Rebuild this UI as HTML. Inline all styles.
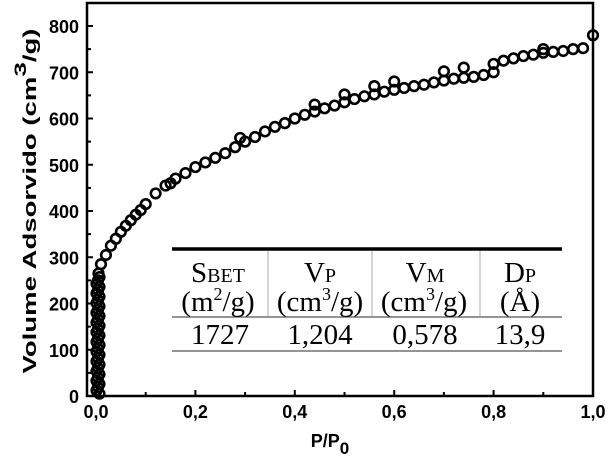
<!DOCTYPE html>
<html><head><meta charset="utf-8"><style>
body{margin:0;background:#fff;width:611px;height:465px;overflow:hidden}
svg{display:block}
.ax{font-family:"Liberation Sans",Arial,sans-serif;font-weight:bold;font-size:18px}
.tb{font-family:"Liberation Serif",serif;font-size:29px}
</style></head><body>
<svg id="s" width="611" height="465" viewBox="0 0 611 465">
<rect x="87" y="3" width="506" height="393" fill="none" stroke="#000" stroke-width="2.5"/>
<g id="ticks" stroke="#000" stroke-width="2"></g>
<g id="lab" class="ax"></g>
<text class="ax" x="330" y="447" font-size="21" text-anchor="middle">P/P<tspan font-size="17" dy="7">0</tspan></text>
<text class="ax" font-size="23" transform="translate(36,201) rotate(-90)" text-anchor="middle" textLength="345" lengthAdjust="spacingAndGlyphs">Volume Adsorvido (cm<tspan font-size="17" dy="-10">3</tspan><tspan dy="10">/g)</tspan></text>
<g id="pts" fill="none" stroke="#000" stroke-width="2.6"></g>
<rect x="165" y="246" width="400" height="108" fill="#fff"/>
<line x1="172" y1="249" x2="562" y2="249" stroke="#000" stroke-width="3.5"/>
<line x1="172" y1="317" x2="562" y2="317" stroke="#555" stroke-width="1.3"/>
<line x1="172" y1="351" x2="562" y2="351" stroke="#555" stroke-width="1.3"/>
<g stroke="#aaa" stroke-width="1"><line x1="268" y1="251" x2="268" y2="316"/><line x1="372" y1="251" x2="372" y2="316"/><line x1="480" y1="251" x2="480" y2="316"/></g>
<g class="tb" text-anchor="middle">
<text x="218" y="282">S<tspan font-size="20">BET</tspan></text>
<text x="320" y="282">V<tspan font-size="20">P</tspan></text>
<text x="425" y="282">V<tspan font-size="20">M</tspan></text>
<text x="520" y="282">D<tspan font-size="20">P</tspan></text>
<text x="218" y="311">(m<tspan font-size="18" dy="-11">2</tspan><tspan dy="11">/g)</tspan></text>
<text x="320" y="311">(cm<tspan font-size="18" dy="-11">3</tspan><tspan dy="11">/g)</tspan></text>
<text x="424" y="311">(cm<tspan font-size="18" dy="-11">3</tspan><tspan dy="11">/g)</tspan></text>
<text x="520" y="311">(Å)</text>
<text x="220" y="344">1727</text>
<text x="320" y="344">1,204</text>
<text x="425" y="344">0,578</text>
<text x="520" y="344">13,9</text>
</g>
</svg>
<script>
var NS="http://www.w3.org/2000/svg";
function px(x){return 96+x*497}function py(v){return 396-v*0.4625}
function el(p,t,a,txt){var e=document.createElementNS(NS,t);for(var k in a)e.setAttribute(k,a[k]);if(txt)e.textContent=txt;document.getElementById(p).appendChild(e);}
for(var i=0;i<=8;i++){var y=py(i*100);el("ticks","line",{x1:87,y1:y,x2:93,y2:y});el("lab","text",{x:79,y:y+7,"text-anchor":"end"},String(i*100));
 if(i<8){var y2=py(i*100+50);el("ticks","line",{x1:87,y1:y2,x2:91,y2:y2});}}
for(var i=0;i<=5;i++){var x=px(i*0.2);el("ticks","line",{x1:x,y1:396,x2:x,y2:390});el("lab","text",{x:x,y:418,"text-anchor":"middle"},(i*0.2).toFixed(1).replace(".",","));
 if(i<5){var x2=px(i*0.2+0.1);el("ticks","line",{x1:x2,y1:396,x2:x2,y2:392});}}
function c(x,v){el("pts","circle",{cx:px(x),cy:py(v),r:4.8});}
for(var v=5;v<=260;v+=7)c(0.001+(v%3)*0.003,v);
var K=[[0.005,265],[0.01,285],[0.02,305],[0.03,325],[0.04,340],[0.05,355],[0.06,368],[0.07,380],[0.08,392],[0.09,402],[0.1,415],[0.12,438],[0.14,455],[0.16,470],[0.18,482],[0.2,495],[0.22,505],[0.24,515],[0.26,525],[0.28,538],[0.3,550],[0.32,560],[0.34,572],[0.36,582],[0.38,590],[0.4,600],[0.42,608],[0.44,615],[0.46,622],[0.48,628],[0.5,635],[0.52,642],[0.54,648],[0.56,652],[0.58,658],[0.6,662],[0.62,666],[0.64,670],[0.66,673],[0.68,678],[0.7,682],[0.72,686],[0.74,688],[0.76,690],[0.78,694],[0.8,700],[0.82,725],[0.84,730],[0.86,735],[0.88,738],[0.9,742],[0.92,744],[0.94,746],[0.96,750],[0.98,752],[1.0,780]];
K.forEach(function(p){c(p[0],p[1]);});
[[0.44,630],[0.5,652],[0.56,670],[0.6,680],[0.7,702],[0.74,710],[0.8,718],[0.9,750],[0.15,460],[0.29,558]].forEach(function(p){c(p[0],p[1]);});
</script>
</body></html>
